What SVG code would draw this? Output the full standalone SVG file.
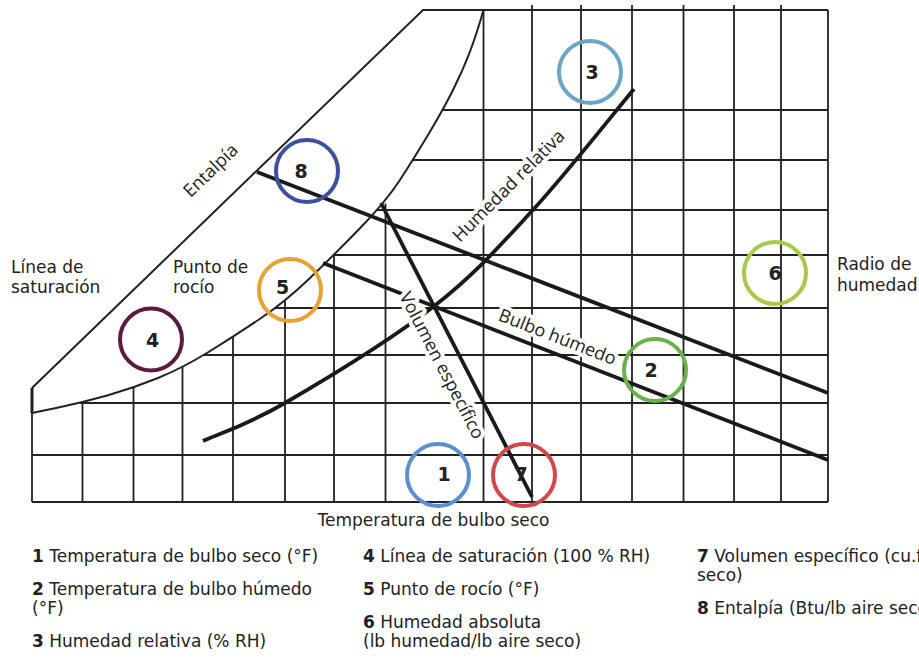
<svg xmlns="http://www.w3.org/2000/svg" width="919" height="659" viewBox="0 0 919 659">
<style>
.g{stroke:#222;stroke-width:1.8;fill:none}
.c{stroke:#222;stroke-width:2;fill:none}
.t{stroke:#1a1a1a;stroke-width:3.8;fill:none}
.lab{font-family:"DejaVu Sans",sans-serif;font-size:17px;fill:#222}
.rot{font-family:"Open Sans","DejaVu Sans",sans-serif;font-size:18px;fill:#222;stroke:#fff;stroke-width:8px;stroke-linejoin:round;paint-order:stroke}
.ring{fill:none;stroke-width:4}
.num{font-family:"DejaVu Sans",sans-serif;font-size:19px;font-weight:bold;fill:#222;text-anchor:middle}
.b{font-weight:bold}
</style>
<rect width="919" height="659" fill="#fff"/>
<g id="grid">
<path class="g" d="M32,413V502 M82.5,402V502 M133.5,387.3V502 M182.5,366.6V502 M233,336.5V502 M285,300.5V502 M334,254.3V502 M385.5,203.4V502 M483.5,10V502 M532,5V502 M581,5V502 M632,5V502 M683.5,5V502 M734,5V502 M781,5V502 M828,10V502"/>
<path class="g" d="M442.5,110H828 M413,160H828 M377,210H828 M333,255H828 M275,308H828 M203,355H828 M80,403H828 M32,455H828 M32,502H828"/>
</g>
<g id="chart-outline">
<path class="c" d="M32,388L423,10H828"/>
<path stroke="#222" stroke-width="3" d="M32,388V413"/>
<path class="c" d="M32,413 L57.25,407.75 Q82.5,402.5 108,395.25 Q133.5,388 158,378 Q182.5,368 207.75,352.5 Q233,337 259,319.5 Q285,302 309.5,278.5 Q334,255 359.75,228.5 Q385.5,202 399.25,181 Q413,160 428,135 Q443,110 453,90 Q463,70 470,51.5 Q477,33 483.5,10"/>
</g>
<g id="line-labels">
<text class="rot" transform="translate(460,243) rotate(-45)">Humedad relativa</text>
<text class="rot" transform="translate(190.5,198.3) rotate(-44)">Entalpía</text>
<text class="rot" transform="translate(497.3,320) rotate(21.3)">Bulbo húmedo</text>
</g>
<g id="connectors">
<path class="t" d="M257,172L828,393"/>
<path class="t" d="M323,263L828,460"/>
<path class="t" d="M381,203L532,497"/>
<path class="t" d="M203,441 C216.7,434.7 246.7,425.3 285,403 C323.3,380.7 391.8,339 433,307 C474.2,275 498.5,247.3 532,211 C565.5,174.7 617,109.3 634,89"/>
</g>
<g id="volume-label">
<text class="rot" transform="translate(399,296) rotate(62.5)">Volumen específico</text>
</g>
<g id="node-1"><circle class="ring" cx="438" cy="475" r="31" stroke="#5b8fd2"/><text class="num" x="444" y="481">1</text></g>
<g id="node-2"><circle class="ring" cx="655" cy="370" r="31" stroke="#6cb04e"/><text class="num" x="651" y="377">2</text></g>
<g id="node-3"><circle class="ring" cx="590" cy="72" r="31" stroke="#6ba6c4"/><text class="num" x="592" y="78.5">3</text></g>
<g id="node-4"><circle class="ring" cx="151" cy="339.5" r="31" stroke="#5a1b3d"/><text class="num" x="152.5" y="347">4</text></g>
<g id="node-5"><circle class="ring" cx="290" cy="290" r="31" stroke="#e7a232"/><text class="num" x="282.5" y="294">5</text></g>
<g id="node-6"><circle class="ring" cx="775" cy="273" r="31" stroke="#a8c94b"/><text class="num" x="775" y="279.5">6</text></g>
<g id="node-7"><circle class="ring" cx="524" cy="475" r="31" stroke="#d2474e"/><text class="num" x="521" y="481">7</text></g>
<g id="node-8"><circle class="ring" cx="307" cy="171" r="31" stroke="#3c4fa1"/><text class="num" x="301" y="178">8</text></g>
<g id="labels">
<text class="lab" x="11" y="272.5">Línea de</text>
<text class="lab" x="11" y="293">saturación</text>
<text class="lab" x="173" y="272.5">Punto de</text>
<text class="lab" x="173" y="293">rocío</text>
<text class="lab" x="837" y="270">Radio de</text>
<text class="lab" x="837" y="291">humedad</text>
<text class="lab" x="433.5" y="526" text-anchor="middle">Temperatura de bulbo seco</text>
</g>
<g id="legend">
<text class="lab" x="32" y="562"><tspan class="b">1</tspan> Temperatura de bulbo seco (°F)</text>
<text class="lab" x="32" y="595"><tspan class="b">2</tspan> Temperatura de bulbo húmedo</text>
<text class="lab" x="32" y="614">(°F)</text>
<text class="lab" x="32" y="647"><tspan class="b">3</tspan> Humedad relativa (% RH)</text>
<text class="lab" x="363" y="562"><tspan class="b">4</tspan> Línea de saturación (100 % RH)</text>
<text class="lab" x="363" y="595"><tspan class="b">5</tspan> Punto de rocío (°F)</text>
<text class="lab" x="363" y="628"><tspan class="b">6</tspan> Humedad absoluta</text>
<text class="lab" x="363" y="647">(lb humedad/lb aire seco)</text>
<text class="lab" x="697" y="562"><tspan class="b">7</tspan> Volumen específico (cu.ft</text>
<text class="lab" x="697" y="581">seco)</text>
<text class="lab" x="697" y="614"><tspan class="b">8</tspan> Entalpía (Btu/lb aire seco</text>
</g>
</svg>
